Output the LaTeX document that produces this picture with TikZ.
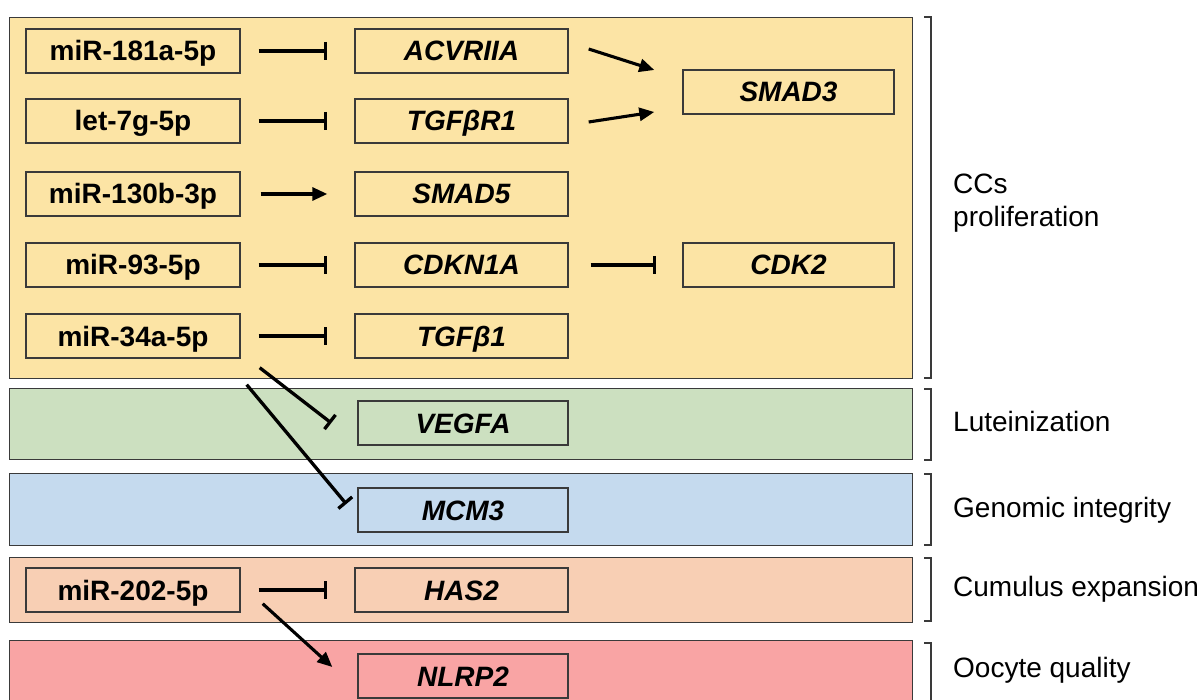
\documentclass[tikz,border=0pt]{standalone}
\usepackage{fontspec}
\setmainfont{Liberation Sans}
\usetikzlibrary{arrows.meta,calc}
\definecolor{cyel}{HTML}{FCE4A5}
\definecolor{cgrn}{HTML}{CCE0C0}
\definecolor{cblu}{HTML}{C5DAEE}
\definecolor{cpch}{HTML}{F8CFB4}
\definecolor{cred}{HTML}{F9A4A4}
\definecolor{edge}{HTML}{3A3A3A}
\newcommand\bigf{\fontsize{28pt}{33pt}\selectfont}
\tikzset{
  panel/.style={draw=edge, line width=1.4pt, inner sep=0pt, minimum width=903pt, anchor=north west},
  mbox/.style={draw=edge, line width=1.4pt, inner sep=0pt, text height=20pt, text depth=0pt, minimum width=214pt, minimum height=44pt, font=\bigf\bfseries},
  gbox/.style={mbox, minimum width=213pt, font=\bigf\bfseries\itshape},
  inh/.style={line width=3.3pt, -{Bar[width=18pt,line width=3.3pt]}},
  act/.style={line width=3.1pt, -{Triangle[length=15pt,width=13pt]}},
  brk/.style={draw=edge, line width=1.8pt},
  lab/.style={font=\bigf, anchor=west, align=left, inner sep=0pt}
}
\begin{document}
\begin{tikzpicture}[x=1pt,y=-1pt]
\useasboundingbox (0,0) rectangle (1201,700);
\clip (0,0) rectangle (1201,700);
% panels
\node[panel, fill=cyel, minimum height=361pt] (P1) at (9,17) {};
\node[panel, fill=cgrn, minimum height=71pt] (P2) at (9,388) {};
\node[panel, fill=cblu, minimum height=72pt] (P3) at (9,473) {};
\node[panel, fill=cpch, minimum height=65pt] (P4) at (9,557) {};
\node[panel, fill=cred, minimum height=80pt] (P5) at (9,640) {};
% miRNA boxes
\node[mbox] (m1) at (133,51) {miR-181a-5p};
\node[mbox] (m2) at (133,121) {let-7g-5p};
\node[mbox] (m3) at (133,194) {miR-130b-3p};
\node[mbox] (m4) at (133,265) {miR-93-5p};
\node[mbox] (m5) at (133,336) {miR-34a-5p};
\node[mbox] (m6) at (133,590) {miR-202-5p};
% gene boxes
\node[gbox] (g1) at (461.5,51) {ACVRIIA};
\node[gbox] (g2) at (461.5,121) {TGFβR1};
\node[gbox] (g3) at (461.5,194) {SMAD5};
\node[gbox] (g4) at (461.5,265) {CDKN1A};
\node[gbox] (g5) at (461.5,336) {TGFβ1};
\node[gbox, minimum width=211pt] (s3) at (788.5,92) {SMAD3};
\node[gbox, minimum width=211pt] (c2) at (788.5,265) {CDK2};
\node[gbox, minimum width=210pt] (ve) at (463,423) {VEGFA};
\node[gbox, minimum width=210pt] (mc) at (463,510) {MCM3};
\node[gbox] (ha) at (461.5,590) {HAS2};
\node[gbox, minimum width=210pt] (nl) at (463,676) {NLRP2};
% connectors
\draw[inh, shorten <=18pt, shorten >=27pt] (m1.east) -- (g1.west);
\draw[inh, shorten <=18pt, shorten >=27pt] (m2.east) -- (g2.west);
\draw[act, shorten <=20pt, shorten >=27pt] (m3.east) -- (g3.west);
\draw[inh, shorten <=18pt, shorten >=27pt] (m4.east) -- (g4.west);
\draw[inh, shorten <=18pt, shorten >=27pt] (m5.east) -- (g5.west);
\draw[inh, shorten <=18pt, shorten >=27pt] (m6.east) -- (ha.west);
\draw[inh, shorten <=22pt, shorten >=26pt] (g4.east) -- (c2.west);
\draw[act] ($(g1.east)+(20,-2)$) -- ($(s3.west)+(-28,-22)$);
\draw[act] ($(g2.east)+(20,1)$) -- ($(s3.west)+(-28,20)$);
\draw[inh] ($(m5.south east)+(19,9)$) -- ($(ve.west)+(-26,0)$);
\draw[inh] ($(m5.south east)+(6,26)$) -- ($(mc.west)+(-11,-6)$);
\draw[act] ($(m6.south east)+(22,-9)$) -- ($(nl.west)+(-25,-9)$);
% brackets
\draw[brk] (924,17) -- (931,17) -- (931,378) -- (924,378);
\draw[brk] (924,389) -- (931,389) -- (931,460) -- (924,460);
\draw[brk] (924,474) -- (931,474) -- (931,545) -- (924,545);
\draw[brk] (924,558) -- (931,558) -- (931,621) -- (924,621);
\draw[brk] (924,643) -- (931,643) -- (931,720);
% labels
\node[lab] (l1) at (953,203) {CCs\\proliferation};
\node[lab] (l2) at (953,421) {Luteinization};
\node[lab] (l3) at (953,510) {Genomic integrity};
\node[lab] (l4) at (953,589) {Cumulus expansion};
\node[lab] (l5) at (953,670) {Oocyte quality};
\end{tikzpicture}
\end{document}
